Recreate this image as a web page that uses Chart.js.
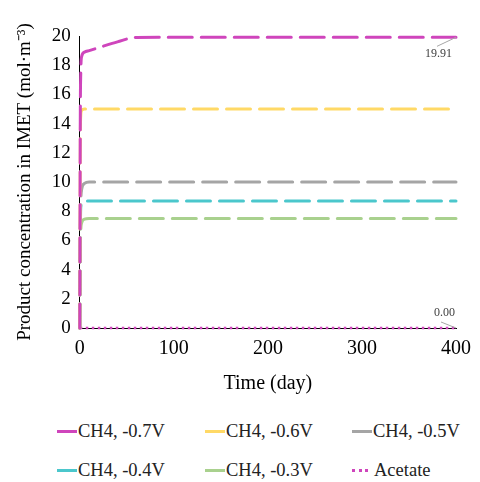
<!DOCTYPE html>
<html>
<head>
<meta charset="utf-8">
<script src="https://cdn.jsdelivr.net/npm/chart.js@4/dist/chart.umd.min.js"></script>
<style>
  html, body { margin: 0; padding: 0; background: #fff; }
  #wrap { position: relative; width: 480px; height: 400px; }
  #legend { position: relative; width: 480px; height: 82px; font-family: "Liberation Serif", serif; font-size: 18.5px; color: #222; }
  .item { position: absolute; display: flex; align-items: center; white-space: nowrap; }
  .sym { width: 20px; height: 0; border-top: 3px solid; margin-right: 1px; }
  .sym.dot { border-top-style: dotted; width: 16px; margin-right: 6px; }
</style>
</head>
<body>
<div id="wrap"><canvas id="chart" width="480" height="400"></canvas></div>
<div id="legend"></div>
<script>
// time axis (day)
const days = [0, 0.5, 1, 2, 5, 10, 20, 40, 60, 100, 200, 300, 400];

// product concentration (mol·m-3)
const ch4_07 = [0, 14.0, 17.4, 18.6, 18.9, 19.0, 19.2, 19.6, 19.9, 19.91, 19.91, 19.91, 19.91];
const ch4_06 = [0, 12.0, 14.5, 14.9, 15.0, 15.0, 15.0, 15.0, 15.0, 15.0, 15.0, 15.0, 15.0];
const ch4_05 = [0, 7.0, 8.6, 9.5, 9.9, 10.0, 10.0, 10.0, 10.0, 10.0, 10.0, 10.0, 10.0];
const ch4_04 = [0, 6.0, 8.2, 8.6, 8.7, 8.7, 8.7, 8.7, 8.7, 8.7, 8.7, 8.7, 8.7];
const ch4_03 = [0, 5.0, 6.6, 7.2, 7.45, 7.5, 7.5, 7.5, 7.5, 7.5, 7.5, 7.5, 7.5];
const acetate = [0, 0, 0, 0, 0, 0, 0, 0, 0, 0, 0, 0, 0];

const seriesNames = ['CH4, -0.7V', 'CH4, -0.6V', 'CH4, -0.5V', 'CH4, -0.4V', 'CH4, -0.3V', 'Acetate'];
const seriesValues = [ch4_07, ch4_06, ch4_05, ch4_04, ch4_03, acetate];
const seriesColors = ['#CF45BC', '#FFD966', '#A5A5A5', '#4BC7CC', '#A9D18E', '#CF45BC'];

// axis ranges / tick steps
const xMin = 0, xMax = 400, xStep = 100;
const yMin = 0, yMax = 20, yStep = 2;

const FONT = "'Liberation Serif', 'Times New Roman', serif";

const datasets = seriesValues.map((vals, i) => ({
  label: seriesNames[i],
  data: days.map((d, k) => ({ x: d, y: vals[k] })),
  borderColor: seriesColors[i],
  borderWidth: i === 5 ? 2.5 : 3,
  borderDash: i === 5 ? [2.5, 3.5] : [24, 9],
  borderCapStyle: i === 5 ? 'butt' : 'round',
  cubicInterpolationMode: 'monotone',
  pointRadius: 0,
  fill: false,
  clip: 6,
}));

// labels on the last point of the first and last series
const endLabels = {
  id: 'endLabels',
  afterDatasetsDraw(chart) {
    const ctx = chart.ctx;
    const xs = chart.scales.x, ys = chart.scales.y;
    const marks = [
      { vals: ch4_07, dx: -19, dy: 9, tx: -4, ty: 17 },
      { vals: acetate, dx: -15, dy: -6, tx: -1, ty: -15 },
    ];
    ctx.save();
    ctx.font = '12px ' + FONT;
    ctx.fillStyle = '#404040';
    ctx.strokeStyle = '#A6A6A6';
    ctx.lineWidth = 1;
    marks.forEach(m => {
      const last = m.vals[m.vals.length - 1];
      const px = xs.getPixelForValue(days[days.length - 1]);
      const py = ys.getPixelForValue(last);
      ctx.beginPath();
      ctx.moveTo(px, py);
      ctx.lineTo(px + m.dx, py + m.dy);
      ctx.stroke();
      ctx.textAlign = 'right';
      ctx.textBaseline = 'middle';
      ctx.fillText(last.toFixed(2), px + m.tx, py + m.ty);
    });
    ctx.restore();
  }
};

const tickFontX = { family: FONT, size: 20 };
const tickFontY = { family: FONT, size: 19 };

new Chart(document.getElementById('chart'), {
  type: 'line',
  data: { datasets },
  options: {
    responsive: false,
    animation: false,
    font: { family: FONT },
    layout: { padding: { top: 36, right: 13, left: 10, bottom: 0 } },
    plugins: { legend: { display: false }, tooltip: { enabled: false } },
    scales: {
      x: {
        type: 'linear',
        min: xMin, max: xMax,
        grid: { display: false, drawTicks: false },
        border: { color: '#000', width: 1 },
        ticks: { stepSize: xStep, color: '#000', font: tickFontX, padding: 9, maxRotation: 0 },
        title: { display: true, text: 'Time (day)', color: '#000', font: { family: FONT, size: 20 }, padding: { top: 2 } },
      },
      y: {
        type: 'linear',
        min: yMin, max: yMax,
        grid: { display: false, drawTicks: false },
        border: { color: '#000', width: 1 },
        ticks: { stepSize: yStep, color: '#000', font: tickFontY, padding: 9 },
        title: { display: true, text: 'Product concentration in IMET (mol·m⁻³)', color: '#000', font: { family: FONT, size: 19 }, padding: { bottom: 6 } },
      },
    },
  },
  plugins: [endLabels],
});

// legend: 3 columns x 2 rows
const legend = document.getElementById('legend');
const colX = [57, 205, 352];
const rowY = [33, 72];
seriesNames.forEach((name, i) => {
  const el = document.createElement('div');
  el.className = 'item';
  el.style.left = colX[i % 3] + 'px';
  el.style.top = (rowY[Math.floor(i / 3)] - 12) + 'px';
  const sym = document.createElement('span');
  sym.className = 'sym' + (i === 5 ? ' dot' : '');
  sym.style.borderColor = seriesColors[i];
  const txt = document.createElement('span');
  txt.textContent = name;
  el.appendChild(sym);
  el.appendChild(txt);
  legend.appendChild(el);
});
</script>
</body>
</html>
